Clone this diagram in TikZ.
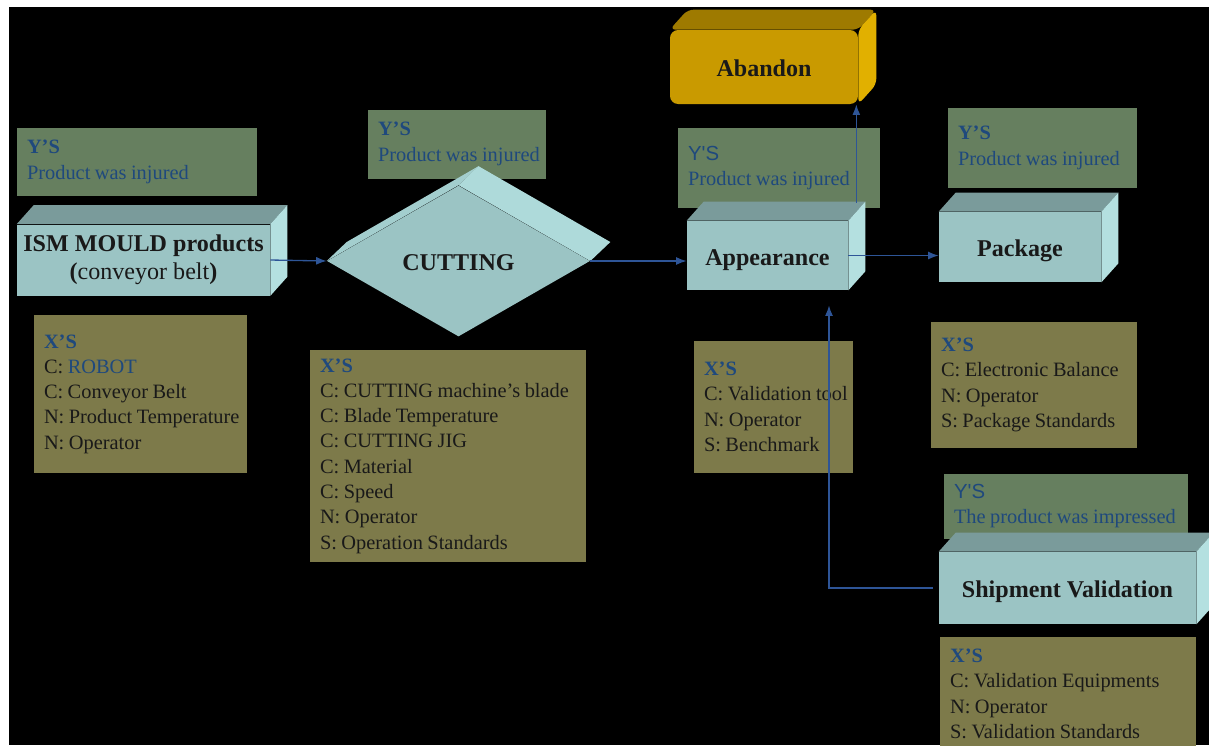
\documentclass[tikz,border=0pt]{standalone}
\usepackage{fontspec}
\setmainfont{Liberation Serif}
\newfontfamily\arialfont{Liberation Sans}
\usetikzlibrary{positioning,shapes.geometric,arrows.meta}

\definecolor{ysgreen}{HTML}{667F5F}
\definecolor{xsolive}{HTML}{7D7A4A}
\definecolor{labelblue}{HTML}{1F497D}
\definecolor{stfront}{HTML}{9BC4C4}
\definecolor{sttop}{HTML}{7A9B9B}
\definecolor{stside}{HTML}{B4E0E0}
\definecolor{cuttop}{HTML}{A3CECE}
\definecolor{cutside}{HTML}{AEDADA}
\definecolor{abfront}{HTML}{C99A00}
\definecolor{abtop}{HTML}{9E7A00}
\definecolor{abside}{HTML}{E1B000}
\definecolor{flowblue}{HTML}{2E5597}

\tikzset{
  notebox/.style={align=left, inner xsep=0.1cm, inner ysep=0pt,
    font=\fontsize{11.6}{14.4}\selectfont,
    execute at begin node={\leftskip=0.1cm\rightskip=-0.2cm plus 1fil\hyphenpenalty=10000
      \spaceskip=0.22em plus 0.1em minus 0.05em}},
  ysbox/.style={notebox, fill=ysgreen, text=labelblue},
  xsbox/.style={notebox, fill=xsolive, text=black!90},
  stage/.style={fill=stfront, text=black!90, inner sep=0pt, align=center,
    font=\bfseries\fontsize{13.7}{16}\selectfont},
  oneline/.style={text height=1.1em, text depth=0pt},
  flow/.style={draw=flowblue, line width=0.75pt, -{Latex[length=6pt,width=4.5pt]}},
}

\newcommand{\ystitle}{\textbf{Y’S}}
\newcommand{\xstitle}{\textcolor{labelblue}{\textbf{X’S}}}
% top and right faces of a stage box
\newcommand{\stagedepth}[1]{%
  \fill[sttop] (#1.north west) -- ++(17,-19) -- ([shift={(17,-19)}]#1.north east) -- (#1.north east) -- cycle;
  \fill[stside] (#1.north east) -- ++(17,-19) -- ([shift={(17,-19)}]#1.south east) -- (#1.south east) -- cycle;}

\begin{document}
\begin{tikzpicture}[x=0.02cm, y=-0.02cm]
\useasboundingbox (0,0) rectangle (1209,745);
\clip (0,0) rectangle (1209,745);
\fill[white] (0,0) rectangle (1209,745);
\fill[black] (9,7) rectangle (1209,745);

% Y's
\node[ysbox, text width=4.6cm, minimum height=1.36cm] (ys1) at (137,162) {\ystitle\\Product was injured};
\node[ysbox, text width=3.36cm, minimum height=1.38cm] (ys2) at (457,144) {\ystitle\\Product was injured};
\node[ysbox, text width=3.84cm, minimum height=1.6cm] (ys3) at (779,168) {{\arialfont Y'S}\\Product was injured};
\node[ysbox, text width=3.58cm, minimum height=1.6cm] (ys4) at (1042.5,148) {\ystitle\\Product was injured};
\node[ysbox, text width=4.68cm, minimum height=1.3cm] (ys5) at (1066,506) {{\arialfont Y'S}\\The product was impressed};

% stages
\node[stage, minimum width=5.06cm, minimum height=1.42cm] (ism) at (143.5,260)
  {ISM MOULD products\\(\mdseries conveyor belt\bfseries)};
\stagedepth{ism}
\node[stage, oneline, shape=diamond, minimum width=5.26cm, minimum height=3.02cm] (cut) at (458.5,261) {CUTTING};
\fill[cuttop] (cut.west) -- (cut.north) -- ++(20,-19) -- ([shift={(20,-19)}]cut.west) -- cycle;
\fill[cutside] (cut.north) -- (cut.east) -- ++(20,-19) -- ([shift={(20,-19)}]cut.north) -- cycle;
\node[stage, oneline, minimum width=3.22cm, minimum height=1.38cm] (app) at (767.5,255.5) {Appearance};
\stagedepth{app}
\node[stage, oneline, minimum width=3.24cm, minimum height=1.4cm] (pack) at (1020,247) {Package};
\stagedepth{pack}
\node[stage, oneline, minimum width=5.14cm, minimum height=1.44cm] (ship) at (1067.5,588) {Shipment Validation};
\stagedepth{ship}
\node[stage, oneline, fill=abfront, rounded corners=0.16cm, minimum width=3.76cm, minimum height=1.48cm] (abn) at (764,67) {Abandon};
\fill[abtop, rounded corners=0.12cm] (abn.north west) -- ++(18,-20) -- ([shift={(18,-20)}]abn.north east) -- (abn.north east) -- cycle;
\fill[abside, rounded corners=0.12cm] (abn.north east) -- ++(18,-20) -- ([shift={(18,-20)}]abn.south east) -- (abn.south east) -- cycle;

% X's
\node[xsbox, text width=4.06cm, minimum height=3.18cm] (xs1) at (140.5,394)
  {\xstitle\\C: \textcolor{labelblue}{ROBOT}\\C: Conveyor Belt\\N: Product Temperature\\N: Operator};
\node[xsbox, text width=5.32cm, minimum height=4.26cm] (xs2) at (448,456)
  {\xstitle\\C: CUTTING machine’s blade\\C: Blade Temperature\\C: CUTTING JIG\\C: Material\\C: Speed\\N: Operator\\S: Operation Standards};
\node[xsbox, text width=2.98cm, minimum height=2.64cm] (xs3) at (773.5,407)
  {\xstitle\\C: Validation tool\\N: Operator\\S: Benchmark};
\node[xsbox, text width=3.92cm, minimum height=2.52cm] (xs4) at (1034,385)
  {\xstitle\\C: Electronic Balance\\N: Operator\\S: Package Standards};
\node[xsbox, text width=4.92cm, minimum height=2.3cm] (xs5) at (1068,694)
  {\xstitle\\C: Validation Equipments\\N: Operator\\S: Validation Standards};

% flow
\coordinate (apptop) at ([shift={(8,-18)}]app.north east);
\coordinate (appin) at ([xshift=1.23cm,yshift=-0.3cm]app.south);
\draw[flow] (ism.east) -- (cut.west);
\draw[flow] (cut.east) -- (cut.east -| app.west);
\draw[flow] (app.east) -- (app.east -| pack.west);
\draw[flow] (apptop) -- (apptop |- abn.south);
\draw[flow, shorten <=0.12cm] (ship.west) -| (appin);
\end{tikzpicture}
\end{document}
